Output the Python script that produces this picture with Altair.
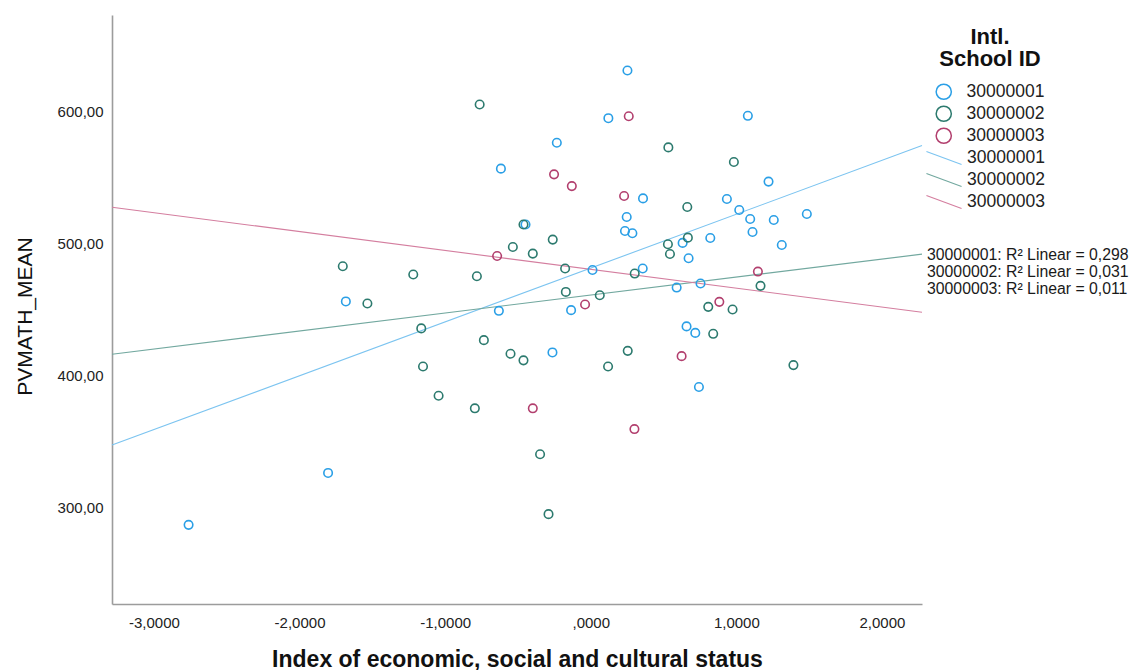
import altair as alt
import pandas as pd

# Intl. school IDs
school_ids = ["30000001", "30000002", "30000003"]

# School 30000001: ESCS index and mean maths score per student
escs_1 = [0.252, 0.121, -0.233, -0.617, 0.359, 0.247, -0.448, 0.235, 0.286, 0.631,
          0.672, 0.357, 0.012, 1.079, 1.221, 0.935, 1.020, 1.095, 1.257, 1.484,
          1.111, 1.312, 0.821, 0.754, 0.590, 0.658, 0.718, 0.743, -0.135, -0.631,
          -0.263, -1.682, -1.804, -2.762]
math_1 = [631.0, 594.9, 576.3, 556.7, 534.2, 520.1, 514.4, 509.5, 507.8, 500.5,
          488.9, 481.1, 480.0, 596.7, 546.9, 533.7, 525.4, 518.6, 517.8, 522.4,
          508.8, 498.9, 504.2, 469.8, 466.7, 437.3, 432.4, 391.4, 449.6, 449.1,
          417.6, 456.2, 326.4, 287.1]

# School 30000002
escs_2 = [-0.763, 0.533, 0.663, -0.462, -0.261, -0.535, -0.398, 0.530, 0.667, 0.544,
          -0.176, 0.302, -1.219, -0.782, 0.983, 1.166, 0.807, 0.974, 0.841, 1.392,
          -0.171, 0.062, -1.164, -0.734, -0.551, -0.462, 0.254, 0.119, -1.152, -1.045,
          -0.796, -0.348, -0.290, -1.534, -1.703]
math_2 = [605.3, 572.8, 527.7, 514.4, 503.0, 497.4, 492.4, 499.5, 504.5, 492.1,
          481.1, 477.3, 476.6, 475.3, 561.7, 468.0, 452.1, 450.1, 431.7, 408.0,
          463.4, 460.9, 435.8, 426.9, 416.6, 411.6, 418.8, 407.0, 407.0, 384.8,
          375.3, 340.5, 295.2, 454.6, 482.8]

# School 30000003
escs_3 = [0.261, -0.252, -0.130, 0.229, -0.643, 1.148, 0.883, -0.039, 0.624, -0.398, 0.300]
math_3 = [596.4, 552.4, 543.5, 536.0, 490.6, 478.8, 455.9, 453.9, 414.8, 375.3, 359.6]

# R² of each school's linear fit
r2_labels = [
    "30000001: R\u00b2 Linear = 0,298",
    "30000002: R\u00b2 Linear = 0,031",
    "30000003: R\u00b2 Linear = 0,011",
]

point_colors = ["#2a9fe6", "#2c7a6e", "#b23f6e"]
line_colors = ["#7cc4f0", "#72a89f", "#d47e9f"]

x_domain = [-3.288, 2.275]
y_domain = [227.2, 673.0]

rows = []
for sid, xs, ys in zip(school_ids, [escs_1, escs_2, escs_3], [math_1, math_2, math_3]):
    for xv, yv in zip(xs, ys):
        rows.append({"school": sid, "ESCS": xv, "PVMATH_MEAN": yv})
df = pd.DataFrame(rows)

# fit-line keys carry an "L" prefix so the line legend stays separate from the point legend
fit_ids = ["L" + s for s in school_ids]

FONT = "Liberation Sans"

x_enc = alt.X(
    "ESCS:Q",
    scale=alt.Scale(domain=x_domain, nice=False, zero=False),
    axis=alt.Axis(
        title="Index of economic, social and cultural status",
        values=[-3, -2, -1, 0, 1, 2],
        labelExpr="datum.value == 0 ? ',0000' : (datum.value < 0 ? '-' : '') + replace(format(abs(datum.value), '.4f'), '.', ',')",
        labelPadding=11,
        titleFontWeight="bold",
        titleFontSize=23,
        titleBaseline="alphabetic",
        titleY=62,
    ),
)
y_enc = alt.Y(
    "PVMATH_MEAN:Q",
    scale=alt.Scale(domain=y_domain, nice=False, zero=False),
    axis=alt.Axis(
        title="PVMATH_MEAN",
        values=[300, 400, 500, 600],
        labelExpr="replace(format(datum.value, '.2f'), '.', ',')",
        labelPadding=9,
        titleFontWeight="normal",
        titleFontSize=21,
        titleBaseline="alphabetic",
        titleAlign="center",
        titleAngle=270,
        titleX=-81,
        titleY=301,
    ),
)

points = alt.Chart(df).mark_point(filled=False, size=72, strokeWidth=1.6, opacity=1).encode(
    x=x_enc,
    y=y_enc,
    color=alt.Color(
        "school:N",
        scale=alt.Scale(domain=school_ids, range=point_colors),
        legend=alt.Legend(
            title=["Intl.", "School ID"],
            orient="none",
            legendX=823,
            legendY=12,
            padding=0,
            symbolType="circle",
            symbolSize=230,
            symbolStrokeWidth=1.5,
            labelFontSize=17.5,
            labelOffset=14,
            rowPadding=0,
            titleFontSize=22,
            titleFontWeight="bold",
            titleLineHeight=22,
            titleAnchor="middle",
            titleAlign="center",
            titlePadding=12,
        ),
    ),
)

fits = (
    alt.Chart(df)
    .transform_regression("ESCS", "PVMATH_MEAN", groupby=["school"], extent=x_domain)
    .transform_calculate(fit="'L' + datum.school")
    .mark_line(strokeWidth=1.1)
    .encode(
        x="ESCS:Q",
        y="PVMATH_MEAN:Q",
        stroke=alt.Stroke(
            "fit:N",
            scale=alt.Scale(domain=fit_ids, range=line_colors),
            legend=alt.Legend(
                title=None,
                orient="none",
                legendX=823,
                legendY=134,
                padding=0,
                symbolType="M-2.1,-0.78L2.1,0.78",
                symbolSize=280,
                symbolStrokeWidth=1.1,
                labelFontSize=17.5,
                labelOffset=14,
                rowPadding=4,
                labelExpr="substring(datum.label, 1)",
            ),
        ),
    )
)

r2_layers = [
    alt.Chart(pd.DataFrame({"label": [lab]}))
    .mark_text(align="left", baseline="middle", fontSize=15.8, font=FONT, color="#1a1a1a")
    .encode(x=alt.value(815), y=alt.value(240 + i * 17.2), text="label:N")
    for i, lab in enumerate(r2_labels)
]

chart = (
    alt.layer(fits, points, *r2_layers)
    .properties(
        width=810,
        height=589,
        autosize=alt.AutoSizeParams(type="none"),
        padding={"left": 112, "top": 15, "right": 208, "bottom": 66},
        background="white",
    )
    .configure_view(strokeWidth=0)
    .configure_axis(
        grid=False,
        ticks=False,
        tickSize=0,
        domainColor="#9c9c9c",
        domainWidth=1.6,
        labelFont=FONT,
        labelFontSize=15,
        labelColor="#222222",
        titleFont=FONT,
        titleColor="#111111",
    )
    .configure_legend(
        labelFont=FONT,
        titleFont=FONT,
        labelColor="#222222",
        titleColor="#111111",
    )
)

chart.save("out.html", embed_options={"renderer": "svg", "actions": False})
